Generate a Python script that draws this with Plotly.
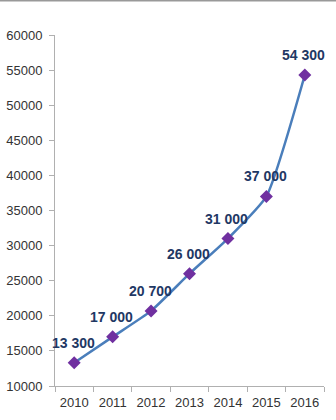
import plotly.graph_objects as go

years = ["2010", "2011", "2012", "2013", "2014", "2015", "2016"]
values = [13300, 17000, 20700, 26000, 31000, 37000, 54300]
labels = [f"{v:,}".replace(",", " ") for v in values]
y_ticks = [10000, 15000, 20000, 25000, 30000, 35000, 40000, 45000, 50000, 55000, 60000]

fig = go.Figure()
fig.add_trace(go.Scatter(
    x=years, y=values,
    mode="lines+markers",
    line=dict(color="#4a7ebb", width=2.5, shape="spline", smoothing=0.5),
    marker=dict(symbol="diamond", size=10, color="#7030a0"),
    cliponaxis=False,
    showlegend=False,
))

for i, (v, lab) in enumerate(zip(values, labels)):
    fig.add_annotation(
        x=i, y=v, text=f"<b>{lab}</b>", showarrow=False,
        yshift=20, xshift=-1,
        font=dict(family="Liberation Sans", size=14, color="#1f3864"),
    )

fig.update_layout(
    width=336, height=420,
    margin=dict(l=55, r=12, t=35, b=34),
    paper_bgcolor="white", plot_bgcolor="white",
    font=dict(family="Liberation Sans", size=13, color="#333333"),
    xaxis=dict(
        type="category", range=[-0.5, 6.5],
        showline=True, linecolor="#b0b0b0", linewidth=1,
        ticks="outside", tickson="boundaries", ticklen=5, tickcolor="#b0b0b0",
        showgrid=False, zeroline=False, ticklabelstandoff=4, tickangle=0,
        automargin=False,
        tickfont=dict(size=13, color="#333333"),
    ),
    yaxis=dict(
        range=[10000, 60000], tickvals=y_ticks, ticktext=[str(t) for t in y_ticks],
        showline=True, linecolor="#b0b0b0", linewidth=1,
        ticks="outside", ticklen=5, tickcolor="#b0b0b0",
        showgrid=False, zeroline=False, ticklabelstandoff=4,
        automargin=False,
        tickfont=dict(size=13, color="#333333"),
    ),
    shapes=[dict(type="line", xref="paper", yref="paper",
                 x0=-55/269, x1=1+12/269, y0=1+34.5/351, y1=1+34.5/351,
                 line=dict(color="#999999", width=2))],
)

fig.write_html("out.html")
